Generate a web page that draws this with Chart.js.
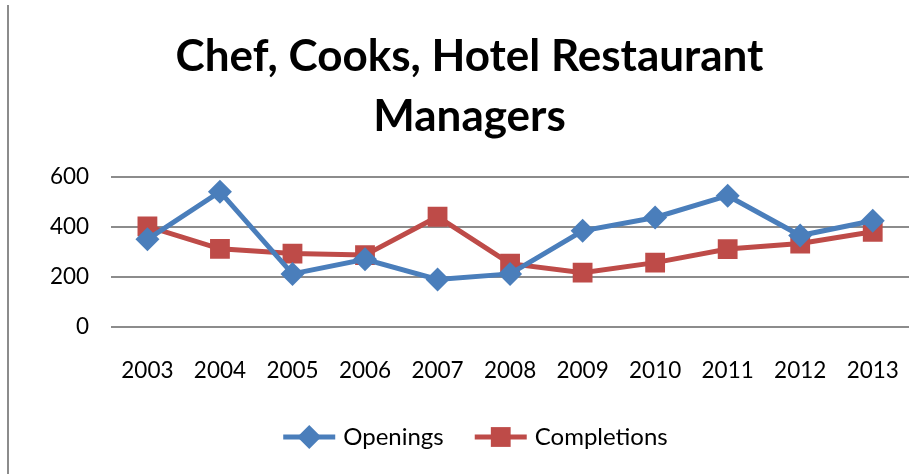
<!DOCTYPE html>
<html>
<head>
<meta charset="utf-8">
<script src="https://cdn.jsdelivr.net/npm/chart.js@4.4.0/dist/chart.umd.min.js"></script>
<style>
  html, body { margin: 0; padding: 0; background: #fff; }
  #wrap { width: 923px; height: 474px; position: relative; }
</style>
</head>
<body>
<div id="wrap"><canvas id="myChart"></canvas></div>
<script>
// Data
const years = ['2003', '2004', '2005', '2006', '2007', '2008', '2009', '2010', '2011', '2012', '2013'];
const openings = [350, 540, 212, 270, 190, 212, 384, 437, 524, 365, 424];
const completions = [402, 312, 293, 287, 440, 253, 217, 257, 311, 333, 380];
const titleLines = ['Chef, Cooks, Hotel Restaurant', 'Managers'];

const fontFamily = 'Lato, "Open Sans", sans-serif';

// Left frame line of the chart area
const frameLine = {
  id: 'frameLine',
  beforeDraw(chart) {
    const c = chart.ctx;
    c.save();
    c.strokeStyle = '#8c8c8c';
    c.lineWidth = 2;
    c.beginPath();
    c.moveTo(8, 5);
    c.lineTo(8, chart.height);
    c.stroke();
    c.restore();
  }
};

// Excel-style legend: line with the marker on it
const lineLegend = {
  id: 'lineLegend',
  afterDraw(chart) {
    const c = chart.ctx;
    const y = 437;
    const lineLen = 52;
    const gap = 8;
    const itemGap = 31;
    c.save();
    c.font = '24px ' + fontFamily;
    c.textBaseline = 'middle';
    const items = chart.data.datasets.map(ds => ({
      ds: ds,
      w: lineLen + gap + c.measureText(ds.label).width
    }));
    const total = items.reduce((s, it) => s + it.w, 0) + itemGap * (items.length - 1);
    let x = (chart.width - total) / 2 + 14;
    items.forEach(it => {
      c.strokeStyle = it.ds.borderColor;
      c.lineWidth = 5;
      c.beginPath();
      c.moveTo(x, y);
      c.lineTo(x + lineLen, y);
      c.stroke();
      c.fillStyle = it.ds.pointBackgroundColor;
      c.strokeStyle = it.ds.pointBackgroundColor;
      Chart.helpers.drawPoint(c, {
        pointStyle: it.ds.pointStyle,
        radius: it.ds.pointRadius,
        rotation: 0,
        borderWidth: 0
      }, x + lineLen / 2, y);
      c.fillStyle = '#000';
      c.fillText(it.ds.label, x + lineLen + gap, y);
      x += it.w + itemGap;
    });
    c.restore();
  }
};

const ctx = document.getElementById('myChart');
new Chart(ctx, {
  type: 'line',
  data: {
    labels: years,
    datasets: [
      {
        label: 'Openings',
        data: openings,
        borderColor: '#4A7EBB',
        backgroundColor: '#4A7EBB',
        pointBackgroundColor: '#4A7EBB',
        pointBorderColor: '#4A7EBB',
        borderWidth: 5,
        pointStyle: 'rectRot',
        pointRadius: 12,
        pointBorderWidth: 0,
        tension: 0
      },
      {
        label: 'Completions',
        data: completions,
        borderColor: '#BE4B48',
        backgroundColor: '#BE4B48',
        pointBackgroundColor: '#BE4B48',
        pointBorderColor: '#BE4B48',
        borderWidth: 5,
        pointStyle: 'rect',
        pointRadius: 14,
        pointBorderWidth: 0,
        tension: 0
      }
    ]
  },
  options: {
    responsive: true,
    maintainAspectRatio: false,
    animation: false,
    layout: {
      padding: { left: 28, right: 12, top: 27, bottom: 68 }
    },
    plugins: {
      title: {
        display: true,
        text: titleLines,
        color: '#000',
        font: { family: fontFamily, size: 44, weight: 'bold', lineHeight: 1.36 },
        padding: { top: 0, bottom: 30 }
      },
      legend: { display: false },
      tooltip: { enabled: false }
    },
    scales: {
      x: {
        offset: true,
        grid: { display: false },
        border: { display: false },
        ticks: {
          color: '#000',
          font: { family: fontFamily, size: 22.5 },
          padding: 22,
          maxRotation: 0
        }
      },
      y: {
        min: 0,
        max: 600,
        ticks: {
          stepSize: 200,
          color: '#000',
          font: { family: fontFamily, size: 22.5 },
          padding: 22
        },
        grid: { color: '#8c8c8c', lineWidth: 2, drawTicks: false },
        border: { display: false }
      }
    }
  },
  plugins: [frameLine, lineLegend]
});
</script>
</body>
</html>
